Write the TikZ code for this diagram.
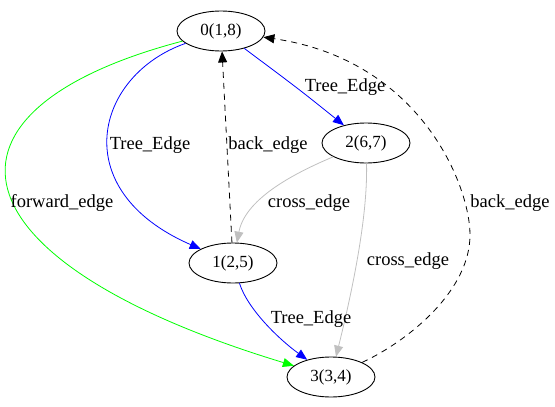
\documentclass[tikz,border=0pt]{standalone}
\usepackage{fontspec}
\setmainfont{Liberation Serif}
\usepackage{xcolor}
\usetikzlibrary{calc}
\usetikzlibrary{arrows.meta}
\usetikzlibrary{shapes.geometric}

\definecolor{gvgreen}{RGB}{0,255,0}
\definecolor{gvgray}{RGB}{192,192,192}

\begin{document}
\begin{tikzpicture}[x=1pt,y=-1pt]

\tikzset{
    ovale/.style = {
    ellipse,
    minimum height=40pt,
    minimum width = 88pt,
    inner sep=0pt
    }
}

\tikzstyle{sommet}=[draw, line width=0.9pt, ovale, font=\fontsize{17}{20}\selectfont]
\tikzstyle{etiquette}=[inner sep=0pt, font=\fontsize{18.5}{22}\selectfont]
\tikzstyle{arc}=[line width=0.8pt, -{Triangle[length=11pt,width=9pt]}]
\tikzstyle{arbre}=[arc, blue]
\tikzstyle{avant}=[arc, gvgreen]
\tikzstyle{transverse}=[arc, gvgray]
\tikzstyle{retour}=[arc, black, dash pattern=on 6pt off 5pt]

\useasboundingbox (0,0) rectangle (555,407);

\node (v-0) [sommet] at (221,31) {0(1,8)};
\node (v-2) [sommet] at (366,143) {2(6,7)};
\node (v-1) [sommet] at (233,263) {1(2,5)};
\node (v-3) [sommet] at (331,377) {3(3,4)};

% aretes
\draw[arbre] (v-0) .. controls (300,90) .. (v-2);
\draw[arbre] (v-0) .. controls (95,75) and (65,190) .. (v-1);
\draw[retour] (v-1) -- (v-0);
\draw[avant] (v-0) .. controls (-80,110) and (-55,260) .. (v-3);
\draw[transverse] (v-2) .. controls (290,175) and (245,200) .. (v-1);
\draw[transverse] (v-2) .. controls (368,220) and (350,300) .. (v-3);
\draw[arbre] (v-1) .. controls (248,310) and (280,340) .. (v-3);
\draw[retour] (v-3) .. controls (410,340) and (470,290) .. (470,235)
    .. controls (470,185) and (420,60) .. (v-0);

% etiquettes
\node (e-02) [etiquette] at (345,87) {Tree\_Edge};
\node (e-01) [etiquette] at (150,145) {Tree\_Edge};
\node (e-10) [etiquette] at (268,145) {back\_edge};
\node (e-03) [etiquette] at (62,203) {forward\_edge};
\node (e-21) [etiquette] at (309,203) {cross\_edge};
\node (e-23) [etiquette] at (408,261) {cross\_edge};
\node (e-13) [etiquette] at (311,319) {Tree\_Edge};
\node (e-30) [etiquette] at (510,203) {back\_edge};

\end{tikzpicture}
\end{document}
